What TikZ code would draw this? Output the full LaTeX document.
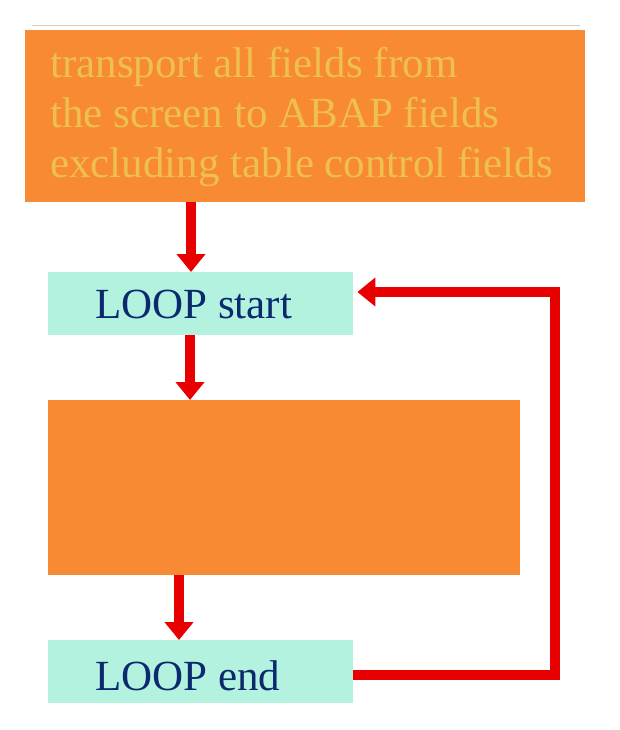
\documentclass[tikz,border=0pt]{standalone}
\usepackage{fontspec}
\setmainfont{Liberation Serif}
\usetikzlibrary{arrows.meta}
\definecolor{boxorange}{HTML}{F78A33}
\definecolor{mint}{HTML}{B4F2E0}
\definecolor{paleyellow}{HTML}{EEC04E}
\definecolor{navy}{HTML}{0B2A6E}
\definecolor{arrowred}{HTML}{E80000}
\tikzset{
  orangebox/.style={fill=boxorange, draw=none, inner sep=0pt},
  mintbox/.style={fill=mint, draw=none, inner sep=0pt},
  flowarrow/.style={draw=arrowred, line width=10pt, -{Triangle[width=28pt,length=18pt]}},
  looptext/.style={text=navy, font=\fontsize{43}{48}\selectfont, anchor=base west, inner sep=0pt},
  toptextstyle/.style={text=paleyellow, font=\fontsize{43}{48}\selectfont, anchor=base west, inner sep=0pt},
}
\begin{document}
\begin{tikzpicture}[x=1pt,y=-1pt]
\useasboundingbox (0,0) rectangle (620,730);
% faint shadow line above top box
\draw[gray!40, line width=1pt] (32,26) -- (580,26);
% boxes
\node[orangebox, minimum width=560pt, minimum height=172pt, anchor=north west] (top) at (25,30) {};
\node[mintbox, minimum width=305pt, minimum height=63pt, anchor=north west] (start) at (48,272) {};
\node[orangebox, minimum width=472pt, minimum height=175pt, anchor=north west] (mid) at (48,400) {};
\node[mintbox, minimum width=305pt, minimum height=63pt, anchor=north west] (end) at (48,640) {};
% texts
\node[toptextstyle] (line1) at (50,78) {transport all fields from};
\node[toptextstyle] (line2) at (50,128) {the screen to ABAP fields};
\node[toptextstyle] (line3) at (50,178) {excluding table control fields};
\node[looptext] (starttext) at (95,318) {LOOP start};
\node[looptext] (endtext) at (95,690) {LOOP end};
% arrows
\coordinate (a1s) at (top.south -| 191,0);
\coordinate (a1e) at (start.north -| 191,0);
\draw[flowarrow] (a1s) -- (a1e);
\coordinate (a2s) at (start.south -| 190,0);
\coordinate (a2e) at (mid.north -| 190,0);
\draw[flowarrow] (a2s) -- (a2e);
\coordinate (a3s) at (mid.south -| 179,0);
\coordinate (a3e) at (end.north -| 179,0);
\draw[flowarrow] (a3s) -- (a3e);
% loop-back
\coordinate (lbs) at (end.east |- 0,675);
\coordinate (lbe) at (start.east |- 0,292);
\draw[flowarrow, line join=miter] (lbs) -- (555,675) -- (555,292) -- ([xshift=4pt]lbe);
\end{tikzpicture}
\end{document}
